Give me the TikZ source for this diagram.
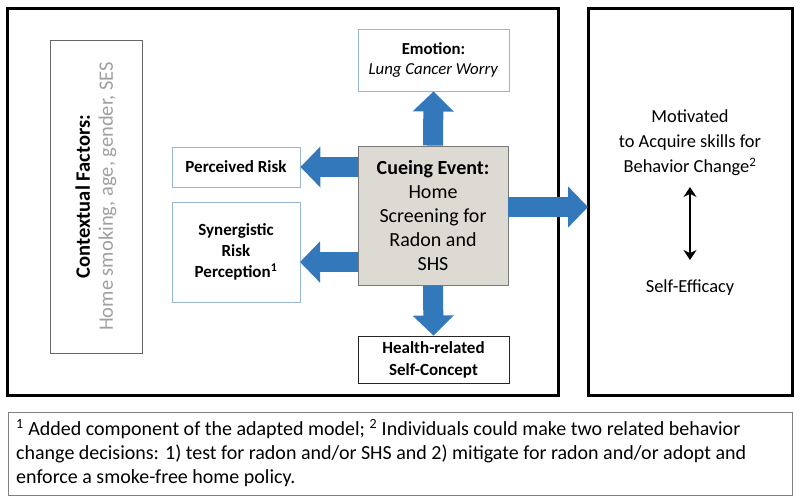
\documentclass[tikz,border=0pt]{standalone}
\usepackage{fontspec}
\setmainfont{Carlito}
\usetikzlibrary{arrows.meta,calc}
\definecolor{arrblue}{RGB}{52,120,188}
\definecolor{boxblue}{RGB}{150,182,212}
\definecolor{cuefill}{RGB}{221,218,212}
\definecolor{cueborder}{RGB}{120,120,120}
\definecolor{ctxgray}{RGB}{160,160,160}
\tikzset{
  bigbox/.style={draw=black, line width=3pt, inner sep=0pt},
  bluebox/.style={draw=boxblue, line width=0.9pt, fill=white, inner sep=0pt, align=center, font=\fontsize{17}{21}\selectfont\bfseries},
  blockarr/.style={draw=arrblue, line width=20pt, -{Triangle[width=40pt,length=20pt]}},
  plain/.style={align=center, inner sep=0pt}
}
\begin{document}
\begin{tikzpicture}[x=1pt,y=-1pt]
\useasboundingbox (0,0) rectangle (800,501);
\fill[white] (0,0) rectangle (800,501);
% big frames
\node[bigbox, minimum width=551pt, minimum height=387pt] (lbox) at (282.5,201.5) {};
\node[bigbox, minimum width=204pt, minimum height=387pt] (rbox) at (690,201.5) {};
\node[draw=gray, line width=0.9pt, minimum width=784pt, minimum height=83pt, inner sep=0pt] (foot) at (400,453.5) {};
% contextual
\node[draw=gray!80!black, line width=0.9pt, minimum width=92pt, minimum height=313pt, inner sep=0pt] (ctx) at (96,196.5) {};
\node[plain, rotate=90, font=\fontsize{20.5}{23}\selectfont] (ctxt) at (ctx.center)
  {\textbf{Contextual Factors:}\\ \textcolor{ctxgray}{Home smoking, age, gender, SES}};
% inner boxes
\node[bluebox, minimum width=151pt, minimum height=62pt, font=\fontsize{16.8}{20}\selectfont] (emo) at (433.5,60)
  {\textbf{Emotion:}\\ \textit{Lung Cancer Worry}};
\node[bluebox, minimum width=128pt, minimum height=40pt] (per) at (236,167) {Perceived Risk};
\node[bluebox, minimum width=128pt, minimum height=100pt] (syn) at (236,252)
  {Synergistic\\ Risk\\ Perception\textsuperscript{1}};
\node[draw=cueborder, fill=cuefill, line width=0.9pt, minimum width=150pt, minimum height=139pt, inner sep=0pt,
  align=center, font=\fontsize{20}{24}\selectfont] (cue) at (433,215.5)
  {\textbf{Cueing Event:}\\ Home\\ Screening for\\ Radon and\\ SHS};
\node[draw=black!85, line width=0.9pt, fill=white, minimum width=151pt, minimum height=47pt, inner sep=0pt,
  align=center, font=\fontsize{17}{22}\selectfont\bfseries] (hea) at (433.5,359.5)
  {Health-related\\ Self-Concept};
% block arrows
\draw[blockarr] (cue.north) -- (emo.south);
\draw[blockarr] (cue.south) -- (hea.north);
\draw[blockarr] (cue.west |- per.east) -- (per.east);
\coordinate (synin) at (300,262);
\draw[blockarr] (cue.west |- synin) -- (synin);
\coordinate (rin) at (588,207);
\draw[blockarr] (cue.east |- rin) -- (rin);
% right panel
\node[plain, font=\fontsize{18.4}{25}\selectfont] (mot) at (690,143)
  {Motivated\\ to Acquire skills for\\ Behavior Change\textsuperscript{2}};
\node[plain, font=\fontsize{18.4}{20}\selectfont] (se) at (690,288) {Self-Efficacy};
\coordinate (d1) at (690,187);
\coordinate (d2) at (690,260);
\draw[line width=2.5pt, {Stealth[width=13pt,length=10pt]}-{Stealth[width=13pt,length=10pt]}] (d1) -- (d2);
% footnote
\node[anchor=west, align=left, inner sep=0pt, font=\fontsize{20}{24}\selectfont] (foottxt) at (16,453)
  {\textsuperscript{1} Added component of the adapted model; \textsuperscript{2} Individuals could make two related behavior\\
   change decisions: 1) test for radon and/or SHS and 2) mitigate for radon and/or adopt and\\
   enforce a smoke-free home policy.};
\end{tikzpicture}
\end{document}
